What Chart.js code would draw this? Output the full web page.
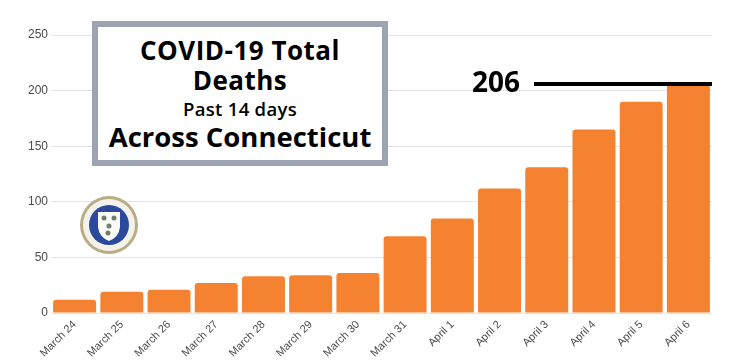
<!DOCTYPE html>
<html>
<head>
<meta charset="utf-8">
<script src="https://cdn.jsdelivr.net/npm/chart.js@4"></script>
<style>
  html, body { margin: 0; padding: 0; background: #fff; }
  #wrap { position: relative; width: 749px; height: 364px; }
  #box {
    position: absolute; left: 92px; top: 21px; width: 296px; height: 145px;
    box-sizing: border-box; border: 6px solid #9ba4b0; background: #fff;
    font-family: "Open Sans", sans-serif; color: #000; text-align: center;
  }
  #box div { position: absolute; left: 0; right: 0; white-space: nowrap; font-weight: 700; }
  .t1 { top: 8px; font-size: 26px; line-height: 30px; letter-spacing: 0.5px; }
  .t2 { top: 38px; font-size: 26px; line-height: 30px; letter-spacing: 0.5px; }
  .t3 { top: 71px; font-size: 18.5px; line-height: 22px; font-weight: 600 !important; letter-spacing: 0.3px; }
  .t4 { top: 94px; font-size: 27.5px; line-height: 32px; }
</style>
</head>
<body>
<div id="wrap">
  <canvas id="chart" width="749" height="364"></canvas>
  <div id="box">
    <div class="t1">COVID-19 Total</div>
    <div class="t2">Deaths</div>
    <div class="t3">Past 14 days</div>
    <div class="t4">Across Connecticut</div>
  </div>
</div>
<script>
const days = ['March 24', 'March 25', 'March 26', 'March 27', 'March 28', 'March 29', 'March 30',
              'March 31', 'April 1', 'April 2', 'April 3', 'April 4', 'April 5', 'April 6'];
const deaths = [12, 19, 21, 27, 33, 34, 36, 69, 85, 112, 131, 165, 190, 206];
const yTicks = [0, 50, 100, 150, 200, 250];
const markValue = 206;

// black marker line + "206" label at the top
const markerPlugin = {
  id: 'marker',
  afterDatasetsDraw(chart) {
    const ctx = chart.ctx;
    const y = chart.scales.y.getPixelForValue(markValue);
    ctx.save();
    ctx.strokeStyle = '#000';
    ctx.lineWidth = 4;
    ctx.beginPath();
    ctx.moveTo(534, y);
    ctx.lineTo(chart.chartArea.right, y);
    ctx.stroke();
    ctx.fillStyle = '#000';
    ctx.font = '700 28px "Open Sans"';
    ctx.textAlign = 'right';
    ctx.textBaseline = 'middle';
    ctx.fillText(String(markValue), 520, y);
    ctx.restore();
  }
};

// the state party seal
const sealPlugin = {
  id: 'seal',
  afterDraw(chart) {
    const ctx = chart.ctx;
    const cx = 109, cy = 225;
    ctx.save();
    ctx.beginPath(); ctx.arc(cx, cy, 29, 0, Math.PI * 2);
    ctx.fillStyle = '#b9ad86'; ctx.fill();
    ctx.beginPath(); ctx.arc(cx, cy, 26, 0, Math.PI * 2);
    ctx.fillStyle = '#f3f1ea'; ctx.fill();
    ctx.beginPath(); ctx.arc(cx, cy, 20, 0, Math.PI * 2);
    ctx.fillStyle = '#2b4a9e'; ctx.fill();
    // shield
    ctx.beginPath();
    ctx.moveTo(cx - 11, cy - 13);
    ctx.lineTo(cx + 11, cy - 13);
    ctx.lineTo(cx + 11, cy + 2);
    ctx.quadraticCurveTo(cx + 10, cy + 12, cx, cy + 16);
    ctx.quadraticCurveTo(cx - 10, cy + 12, cx - 11, cy + 2);
    ctx.closePath();
    ctx.fillStyle = '#fbfbf8'; ctx.fill();
    ctx.fillStyle = '#6f7d6a';
    [[-5, -7], [5, -7], [0, 1], [-1, 8]].forEach(([dx, dy]) => {
      ctx.beginPath(); ctx.arc(cx + dx, cy + dy, 2.5, 0, Math.PI * 2); ctx.fill();
    });
    ctx.restore();
  }
};

new Chart(document.getElementById('chart'), {
  type: 'bar',
  data: {
    labels: days,
    datasets: [{
      data: deaths,
      backgroundColor: '#f58231',
      borderRadius: { topLeft: 3, topRight: 3 },
      borderSkipped: 'bottom',
      barPercentage: 0.91,
      categoryPercentage: 1
    }]
  },
  options: {
    responsive: false,
    animation: false,
    layout: { padding: { top: 35, right: 37, left: 28, bottom: 2 } },
    plugins: { legend: { display: false }, tooltip: { enabled: false } },
    scales: {
      x: {
        afterFit(axis) { axis.height = 49; },
        grid: { display: false },
        border: { display: false },
        ticks: {
          color: '#4a4a4a', font: { family: '"Liberation Sans", Arial', size: 11 },
          maxRotation: 45, minRotation: 45, padding: -3
        }
      },
      y: {
        min: 0, max: 250,
        afterBuildTicks(axis) { axis.ticks = yTicks.map(v => ({ value: v })); },
        afterFit(axis) { axis.width = 23; },
        grid: { color: '#e4e4e4', drawTicks: false },
        border: { display: false },
        ticks: { color: '#4a4a4a', font: { family: '"Liberation Sans", Arial', size: 12 }, padding: 3 }
      }
    }
  },
  plugins: [markerPlugin, sealPlugin]
});
</script>
</body>
</html>
